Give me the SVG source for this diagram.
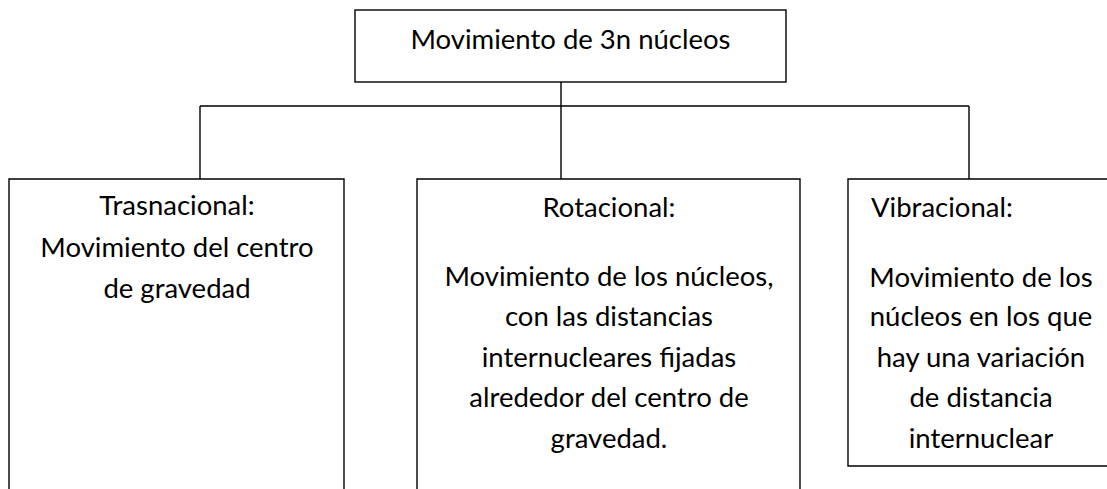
<svg xmlns="http://www.w3.org/2000/svg" width="1107" height="489" viewBox="0 0 1107 489">
<style>
.box{fill:#fff;stroke:#000;stroke-width:1.4}
.ln{fill:none;stroke:#000;stroke-width:1.4}
text{font-family:Lato,"Liberation Sans",sans-serif;font-size:27.5px;fill:#000}
.c{text-anchor:middle}
</style>
<rect width="1107" height="489" fill="#fff"/>
<g id="connectors">
<path class="ln" d="M561 82V106M200 106H969M200 106V179M561 106V179M969 106V179"/>
</g>
<g id="root">
<rect class="box" x="355" y="10" width="431" height="72"/>
<text class="c" x="570.5" y="49">Movimiento de 3n núcleos</text>
</g>
<g id="traslacional">
<path class="box" d="M9 495V179H344V495"/>
<text class="c" x="177" y="215">Trasnacional:</text>
<text class="c" x="177" y="257">Movimiento del centro</text>
<text class="c" x="177" y="298">de gravedad</text>
</g>
<g id="rotacional">
<path class="box" d="M417 495V179H800V495"/>
<text class="c" x="609" y="217">Rotacional:</text>
<text class="c" x="609" y="286">Movimiento de los núcleos,</text>
<text class="c" x="609" y="326">con las distancias</text>
<text class="c" x="609" y="367">internucleares fijadas</text>
<text class="c" x="609" y="407">alrededor del centro de</text>
<text class="c" x="609" y="448">gravedad.</text>
</g>
<g id="vibracional">
<path class="box" d="M1115 179H848V466H1115"/>
<text x="871" y="217">Vibracional:</text>
<text class="c" x="981" y="287">Movimiento de los</text>
<text class="c" x="981" y="326">núcleos en los que</text>
<text class="c" x="981" y="367">hay una variación</text>
<text class="c" x="981" y="407">de distancia</text>
<text class="c" x="981" y="448">internuclear</text>
</g>
</svg>
